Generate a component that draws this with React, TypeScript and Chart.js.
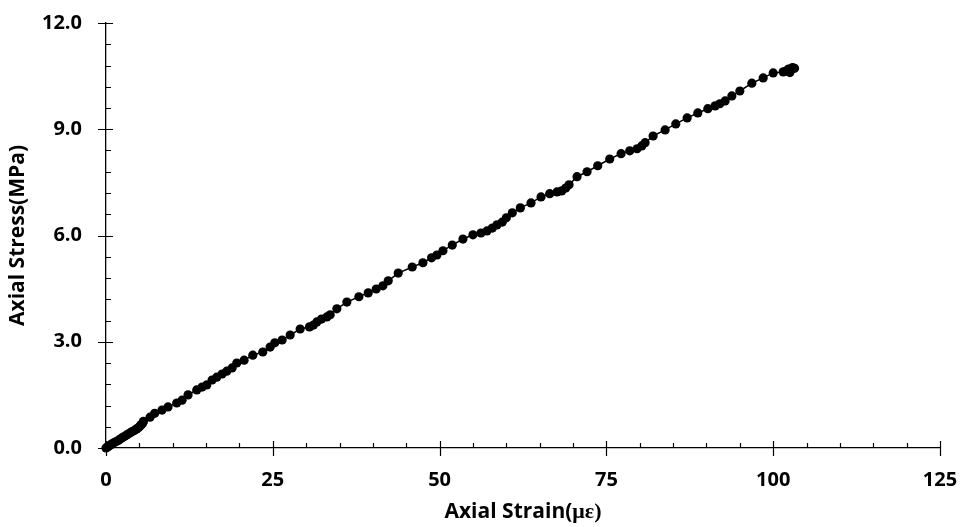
import React, { useEffect, useRef } from "react";
import { Chart, registerables } from "chart.js";

Chart.register(...registerables);

const strain: number[] = [
  0, 0.2, 0.4, 0.6, 0.8, 1.0, 1.3, 1.6, 1.9, 2.2, 2.5, 2.8, 3.1, 3.4, 3.7, 4.0, 4.3, 4.6, 4.9, 5.1, 5.3, 5.5, 5.6,
  6.6, 7.3, 8.4, 9.3, 10.6, 11.4, 12.3, 13.6, 14.4, 15.1, 15.9, 16.6, 17.4, 18.1, 18.9, 19.6, 20.7, 22.0,
  23.5, 24.6, 25.3, 26.4, 27.6, 29.1, 30.5, 31.1, 31.6, 32.3, 33.1, 33.6, 34.6, 36.1, 37.9, 39.3, 40.5, 41.5,
  42.3, 43.8, 45.9, 47.5, 48.8, 49.6, 50.5, 51.9, 53.5, 55.0, 56.2, 57.1, 57.9, 58.6, 59.4, 60.0, 60.9,
  62.1, 63.7, 65.2, 66.5, 67.6, 68.3, 68.9, 69.4, 70.6, 72.1, 73.7, 75.5, 77.2, 78.5, 79.6, 80.3, 80.8,
  82.0, 83.8, 85.4, 87.1, 88.7, 90.2, 91.3, 92.0, 92.8, 93.8, 95.0, 96.8, 98.5, 100.0, 101.5, 102.0,
  102.5, 102.3, 102.6, 102.9, 103.2,
];

const stress: number[] = [
  0, 0.03, 0.05, 0.08, 0.1, 0.13, 0.16, 0.19, 0.22, 0.26, 0.3, 0.33, 0.37, 0.4, 0.44, 0.47, 0.5, 0.54, 0.58, 0.62, 0.66, 0.7, 0.75,
  0.87, 0.98, 1.07, 1.16, 1.27, 1.35, 1.5, 1.64, 1.72, 1.78, 1.92, 2.0, 2.09, 2.17, 2.26, 2.4, 2.48, 2.62,
  2.71, 2.85, 2.97, 3.05, 3.19, 3.36, 3.42, 3.47, 3.56, 3.64, 3.7, 3.76, 3.93, 4.12, 4.27, 4.38, 4.49, 4.58,
  4.72, 4.94, 5.11, 5.23, 5.37, 5.45, 5.57, 5.73, 5.9, 6.02, 6.07, 6.13, 6.21, 6.3, 6.38, 6.5, 6.64,
  6.78, 6.92, 7.09, 7.18, 7.23, 7.26, 7.34, 7.43, 7.66, 7.8, 7.97, 8.16, 8.31, 8.39, 8.45, 8.53, 8.62,
  8.81, 8.98, 9.15, 9.32, 9.46, 9.58, 9.66, 9.72, 9.8, 9.94, 10.08, 10.3, 10.45, 10.59, 10.62, 10.65,
  10.6, 10.7, 10.68, 10.74, 10.72,
];

const xTicks: number[] = [0, 25, 50, 75, 100, 125];
const yTicks: number[] = [0, 3, 6, 9, 12];
const xMinorStep = 5;
const yMinorStep = 0.6;
const xTitleMain = "Axial Strain(";
const xTitleUnit = "με)";
const yTitle = "Axial Stress(MPa)";

const FONT = "'Open Sans', 'Liberation Sans', sans-serif";
const SERIF = "'Liberation Serif', 'DejaVu Serif', serif";

const tickPlugin = {
  id: "customTicks",
  afterDraw(chart: any) {
    const ctx = chart.ctx;
    const xs = chart.scales.x;
    const ys = chart.scales.y;
    const x0 = xs.getPixelForValue(0);
    const y0 = ys.getPixelForValue(0);
    ctx.save();
    ctx.strokeStyle = "#000";
    ctx.lineWidth = 1.2;
    ctx.beginPath();
    for (let v = 0; v <= 125 + 1e-6; v += xMinorStep) {
      const px = Math.round(xs.getPixelForValue(v)) + 0.5;
      const isMajor = xTicks.some((t) => Math.abs(t - v) < 1e-6);
      if (isMajor) {
        ctx.moveTo(px, y0 - 7);
        ctx.lineTo(px, y0 + 8);
      } else {
        ctx.moveTo(px, y0 - 5);
        ctx.lineTo(px, y0);
      }
    }
    for (let i = 0; i <= Math.round(12 / yMinorStep); i++) {
      const v = i * yMinorStep;
      const py = Math.round(ys.getPixelForValue(v)) + 0.5;
      const isMajor = yTicks.some((t) => Math.abs(t - v) < 1e-6);
      if (isMajor) {
        ctx.moveTo(x0 - 8, py);
        ctx.lineTo(x0 + 7, py);
      } else {
        ctx.moveTo(x0, py);
        ctx.lineTo(x0 + 5, py);
      }
    }
    ctx.stroke();

    // axis titles
    ctx.fillStyle = "#000";
    const cx = (chart.chartArea.left + chart.chartArea.right) / 2;
    ctx.font = `bold 21px ${FONT}`;
    const w1 = ctx.measureText(xTitleMain).width;
    ctx.font = `bold 22px ${SERIF}`;
    const w2 = ctx.measureText(xTitleUnit).width;
    const start = cx - (w1 + w2) / 2;
    ctx.textBaseline = "alphabetic";
    ctx.textAlign = "left";
    ctx.font = `bold 21px ${FONT}`;
    ctx.fillText(xTitleMain, start, 518);
    ctx.font = `bold 22px ${SERIF}`;
    ctx.fillText(xTitleUnit, start + w1, 518);

    const cy = (chart.chartArea.top + chart.chartArea.bottom) / 2;
    ctx.translate(18, cy);
    ctx.rotate(-Math.PI / 2);
    ctx.font = `bold 21px ${FONT}`;
    ctx.textAlign = "center";
    ctx.textBaseline = "middle";
    ctx.fillText(yTitle, 0, 0);
    ctx.restore();
  },
};

export default function App() {
  const ref = useRef<HTMLCanvasElement | null>(null);
  useEffect(() => {
    document.body.style.margin = "0";
    if (!ref.current) return;
    const data = strain.map((s, i) => ({ x: s, y: stress[i] }));
    const chart = new Chart(ref.current, {
      type: "scatter",
      data: {
        datasets: [
          {
            data,
            showLine: true,
            borderColor: "#000",
            borderWidth: 1.5,
            backgroundColor: "#000",
            pointBackgroundColor: "#000",
            pointBorderColor: "#000",
            pointBorderWidth: 0,
            pointRadius: 4.6,
            clip: false as any,
          },
        ],
      },
      options: {
        animation: false,
        responsive: false,
        maintainAspectRatio: false,
        layout: { padding: { left: 0, right: 22, top: 23, bottom: 0 } },
        plugins: { legend: { display: false }, tooltip: { enabled: false } },
        scales: {
          x: {
            type: "linear",
            min: 0,
            max: 125,
            afterFit: (s: any) => {
              s.height = 79;
              s.paddingLeft = 0;
              s.paddingRight = 0;
            },
            afterBuildTicks: (s: any) => {
              s.ticks = xTicks.map((v) => ({ value: v }));
            },
            grid: { display: false, drawTicks: false },
            border: { display: true, color: "#000", width: 1.3 },
            ticks: {
              color: "#000",
              font: { family: FONT, size: 20, weight: "bold" },
              padding: 20,
              maxRotation: 0,
              callback: (v: any) => String(v),
            },
            title: { display: false },
          },
          y: {
            type: "linear",
            min: 0,
            max: 12,
            afterFit: (s: any) => {
              s.width = 106;
              s.paddingTop = 0;
              s.paddingBottom = 0;
            },
            afterBuildTicks: (s: any) => {
              s.ticks = yTicks.map((v) => ({ value: v }));
            },
            grid: { display: false, drawTicks: false },
            border: { display: true, color: "#000", width: 1.3 },
            ticks: {
              color: "#000",
              font: { family: FONT, size: 20, weight: "bold" },
              padding: 24,
              callback: (v: any) => Number(v).toFixed(1),
            },
            title: { display: false },
          },
        },
      },
      plugins: [tickPlugin],
    });
    return () => chart.destroy();
  }, []);
  return (
    <div style={{ width: 962, height: 527, position: "relative", background: "#fff" }}>
      <canvas ref={ref} width={962} height={527} style={{ display: "block" }} />
    </div>
  );
}
